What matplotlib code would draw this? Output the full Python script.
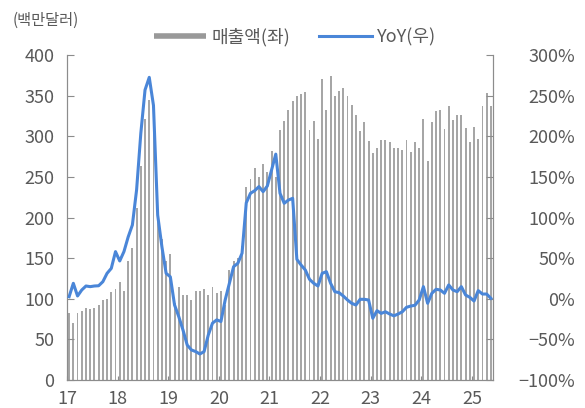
import matplotlib
matplotlib.use("Agg")
import matplotlib.pyplot as plt
from matplotlib.lines import Line2D
import numpy as np

plt.rcParams["font.family"] = ["Noto Sans CJK KR", "DejaVu Sans"]

# monthly data, Jan 2017 - May 2025
years = ["17", "18", "19", "20", "21", "22", "23", "24", "25"]

sales = [
    82, 70, 82, 85, 89, 87, 89, 92, 99, 100, 108, 112,          # 2017
    121, 110, 146, 163, 212, 264, 321, 345, 337, 205, 174, 147,  # 2018
    155, 95, 114, 105, 105, 98, 109, 109, 112, 105, 115, 107,    # 2019
    110, 92, 136, 147, 150, 165, 238, 247, 261, 250, 266, 256,   # 2020
    282, 250, 308, 319, 332, 343, 350, 352, 355, 308, 319, 297,  # 2021
    371, 332, 374, 349, 356, 359, 350, 338, 326, 307, 318, 294,  # 2022
    279, 285, 295, 295, 293, 285, 285, 283, 295, 281, 293, 286,  # 2023
    321, 270, 317, 331, 332, 309, 337, 320, 326, 326, 310, 293,  # 2024
    312, 297, 337, 353, 337,                                     # 2025
]

yoy = [
    2.5, 19, 3.4, 10.8, 15.7, 14.9, 15.7, 16, 21, 31.3, 37.4, 58,
    46.5, 58, 76, 90.8, 134, 203.6, 257, 272.5, 238, 103, 64, 31.3,
    27, -7.7, -22, -38.5, -57, -63, -65, -68, -65, -44.6, -30, -26,
    -28, -1.5, 19, 39.5, 43.6, 56, 118, 129.8, 133, 138, 131.8, 138.8,
    158.5, 178, 129.8, 117.5, 121.5, 123.6, 48.5, 41.5, 35.4, 23.9, 19, 15.7,
    31.3, 33.3, 19, 8.7, 7.5, 3.4, -1.5, -5.6, -7.7, -0.7, -0.7, -1.5,
    -24, -14.7, -18, -16, -18.8, -21, -18.8, -16, -10.5, -9, -8, -1.5,
    14.9, -5.6, 6.7, 11.6, 10.8, 6.7, 17, 10.8, 8.7, 14.9, 4.6, 1.8,
    -2.8, 10, 5.8, 5.8, 0.5,
]

bar_color = "#a6a6a6"
line_color = "#4a86d8"
text_color = "#595959"
spine_color = "#8c8c8c"

x = np.arange(len(sales))

fig = plt.figure(figsize=(5.85, 4.08), dpi=100)
ax = fig.add_axes([67 / 585, 28 / 408, 426 / 585, 325 / 408])
ax.bar(x, sales, width=0.45, color=bar_color, zorder=1)
ax.set_xlim(-0.5, len(sales) - 0.5)
ax.set_ylim(0, 400)
ax.set_yticks(range(0, 401, 50))
ax.set_xticks(np.arange(len(years)) * 12 - 0.5)
ax.set_xticklabels(years)
ax.tick_params(axis="y", direction="in", length=5, color=spine_color,
               labelsize=13, labelcolor=text_color, pad=9)
ax.tick_params(axis="x", direction="in", length=3, color=spine_color,
               labelsize=13, labelcolor=text_color, pad=7)
ax.spines["top"].set_visible(False)
for s in ["left", "bottom", "right"]:
    ax.spines[s].set_color(spine_color)

ax2 = ax.twinx()
ax2.plot(x, yoy, color=line_color, lw=2.2, zorder=3)
ax2.set_ylim(-100, 300)
ticks = list(range(-100, 301, 50))
ax2.set_yticks(ticks)
ax2.set_yticklabels([(f"{t}%").replace("-", "\u2212") for t in ticks])
ax2.tick_params(axis="y", direction="in", length=5, color=spine_color,
                labelsize=13, labelcolor=text_color, pad=59)
for lbl in ax2.get_yticklabels():
    lbl.set_horizontalalignment("right")
ax2.spines["top"].set_visible(False)
for s in ["left", "bottom", "right"]:
    ax2.spines[s].set_color(spine_color)

handles = [
    Line2D([], [], color="#999999", lw=4, solid_capstyle="butt"),
    Line2D([], [], color=line_color, lw=2.2),
]
fig.legend(handles, ["매출액(좌)", "YoY(우)"], loc="center",
           bbox_to_anchor=(295 / 585, 1 - 37 / 408), ncol=2, frameon=False,
           fontsize=13, labelcolor=text_color, handlelength=2.9,
           handletextpad=0.3, columnspacing=1.6)

fig.text(13 / 585, 1 - 20 / 408, "(백만달러)", fontsize=11, color=text_color,
         ha="left", va="center")

fig.savefig("out.png", dpi=100)
